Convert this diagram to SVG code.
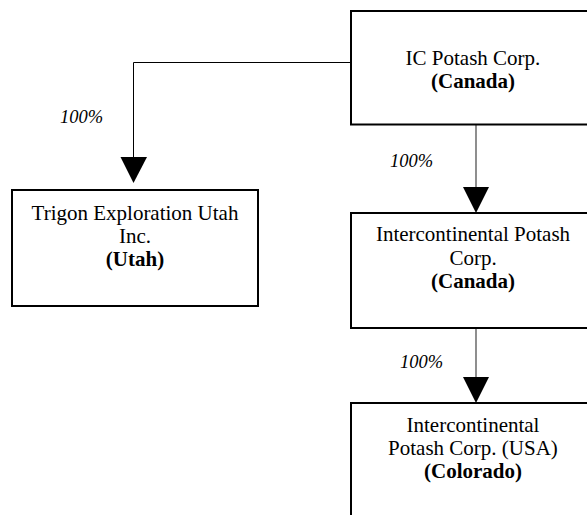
<svg xmlns="http://www.w3.org/2000/svg" width="587" height="515" viewBox="0 0 587 515">
<style>
.box{fill:#fff;stroke:#000;stroke-width:2}
.t{font-family:"Liberation Serif","Times New Roman",serif;font-size:21px;fill:#000;text-anchor:middle}
.b{font-weight:bold}
.lbl{font-family:"Liberation Serif","Times New Roman",serif;font-size:18.5px;font-style:italic;fill:#000}
.ln{fill:none;stroke:#000;stroke-width:1}
.ln2{fill:none;stroke:#444;stroke-width:1.2}
.ah{fill:#000}
</style>
<rect width="587" height="515" fill="#fff"/>
<g id="connectors">
<polyline class="ln" points="351,62.5 133.5,62.5 133.5,160"/>
<polygon class="ah" points="120.5,157 147,157 133.5,183"/>
<line class="ln2" x1="476" y1="125" x2="476" y2="190"/>
<polygon class="ah" points="463,187 489,187 476,213"/>
<line class="ln2" x1="476" y1="329" x2="476" y2="380"/>
<polygon class="ah" points="463,377 489,377 476,403"/>
</g>
<g id="labels">
<text class="lbl" x="60" y="123">100%</text>
<text class="lbl" x="390" y="167">100%</text>
<text class="lbl" x="400" y="368">100%</text>
</g>
<g id="ic-potash">
<rect class="box" x="351" y="11" width="244" height="113.5"/>
<text class="t" x="473" y="65">IC Potash Corp.</text>
<text class="t b" x="473" y="88">(Canada)</text>
</g>
<g id="trigon">
<rect class="box" x="12" y="190" width="246" height="116"/>
<text class="t" x="135" y="220">Trigon Exploration Utah</text>
<text class="t" x="135" y="243">Inc.</text>
<text class="t b" x="135" y="266">(Utah)</text>
</g>
<g id="intercontinental-canada">
<rect class="box" x="351" y="213" width="244" height="115"/>
<text class="t" x="473" y="241">Intercontinental Potash</text>
<text class="t" x="473" y="265">Corp.</text>
<text class="t b" x="473" y="288">(Canada)</text>
</g>
<g id="intercontinental-usa">
<rect class="box" x="351" y="403" width="244" height="130"/>
<text class="t" x="473" y="432">Intercontinental</text>
<text class="t" x="473" y="455">Potash Corp. (USA)</text>
<text class="t b" x="473" y="478">(Colorado)</text>
</g>
</svg>
